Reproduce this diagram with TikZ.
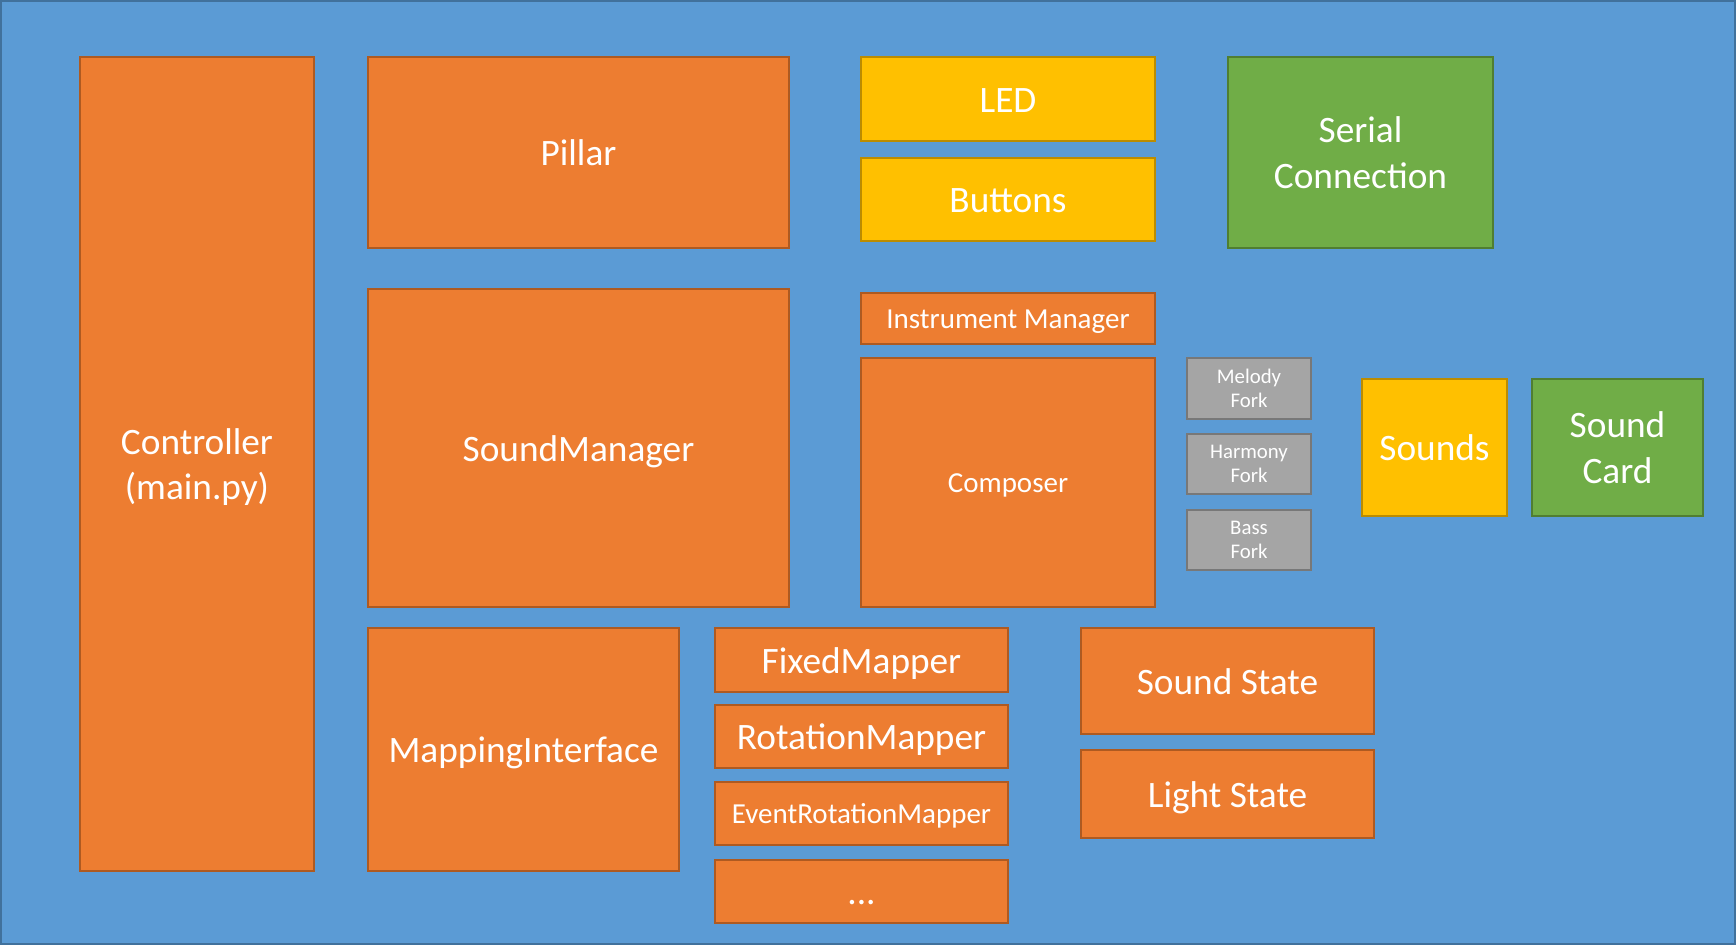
\documentclass[tikz,border=0pt]{standalone}
\usepackage{fontspec}
\setmainfont{Carlito}
\definecolor{bgblue}{HTML}{5B9BD5}
\definecolor{bgborder}{HTML}{41719C}
\definecolor{orfill}{HTML}{ED7D31}
\definecolor{ordraw}{HTML}{AE5A21}
\definecolor{yefill}{HTML}{FFC000}
\definecolor{yedraw}{HTML}{BC8C00}
\definecolor{grfill}{HTML}{70AD47}
\definecolor{grdraw}{HTML}{507E32}
\definecolor{gyfill}{HTML}{A5A5A5}
\definecolor{gydraw}{HTML}{787878}
\tikzset{
  box/.style={anchor=north west, inner sep=0pt, outer sep=0pt, line width=2pt,
    text=white, align=center},
  orbox/.style={box, fill=orfill, draw=ordraw},
  yebox/.style={box, fill=yefill, draw=yedraw},
  grbox/.style={box, fill=grfill, draw=grdraw},
  gybox/.style={box, fill=gyfill, draw=gydraw},
  bigtxt/.style={font=\fontsize{37.3}{45.4}\selectfont},
  midtxt/.style={font=\fontsize{29}{35}\selectfont},
  smalltxt/.style={font=\fontsize{20.8}{24.4}\selectfont},
  bigone/.style={bigtxt, text height=35.4pt, text depth=8.6pt},
  midone/.style={midtxt, text height=27.6pt, text depth=6.7pt},
  sz/.style 2 args={minimum width=#1pt, minimum height=#2pt}
}
\begin{document}
\begin{tikzpicture}[x=1pt,y=-1pt]
\useasboundingbox (0,0) rectangle (1736,945);
\fill[bgblue] (0,0) rectangle (1736,945);
\draw[bgborder, line width=2pt] (1,1) rectangle (1735,944);

\node[orbox, sz={234}{814},
  label={[bigtxt, text=white, align=center, yshift=-3.3pt]center:Controller\\(main.py)}] (ctrl) at (80,57) {};
\node[orbox, bigone, sz={421}{191}] (pillar) at (368,57) {Pillar};
\node[orbox, bigone, sz={421}{318}] (soundmgr) at (368,289) {SoundManager};
\node[orbox, bigone, sz={311}{243}] (mapping) at (368,628) {MappingInterface};

\node[yebox, bigone, sz={294}{84}] (led) at (861,57) {LED};
\node[yebox, bigone, sz={294}{83}] (buttons) at (861,158) {Buttons};
\node[grbox, bigtxt, sz={265}{191}] (serial) at (1228,57) {Serial\\Connection};

\node[orbox, midone, sz={294}{51}] (instr) at (861,293) {Instrument Manager};
\node[orbox, midone, sz={294}{249}] (composer) at (861,358) {Composer};

\node[gybox, smalltxt, sz={124}{61}] (melody) at (1187,358) {Melody\\Fork};
\node[gybox, smalltxt, sz={124}{60}] (harmony) at (1187,434) {Harmony\\Fork};
\node[gybox, smalltxt, sz={124}{60}] (bass) at (1187,510) {Bass\\Fork};

\node[yebox, bigone, sz={145}{137}] (sounds) at (1362,379) {Sounds};
\node[grbox, bigtxt, sz={171}{137}] (soundcard) at (1532,379) {Sound\\Card};

\node[orbox, bigone, sz={293}{64}] (fixed) at (715,628) {FixedMapper};
\node[orbox, bigone, sz={293}{63}] (rotation) at (715,705) {RotationMapper};
\node[orbox, midone, sz={293}{63}] (event) at (715,782) {EventRotationMapper};
\node[orbox, bigone, sz={293}{63}] (more) at (715,860) {...};

\node[orbox, bigone, sz={293}{106}] (soundstate) at (1081,628) {Sound State};
\node[orbox, bigone, sz={293}{88}] (lightstate) at (1081,750) {Light State};
\end{tikzpicture}
\end{document}
